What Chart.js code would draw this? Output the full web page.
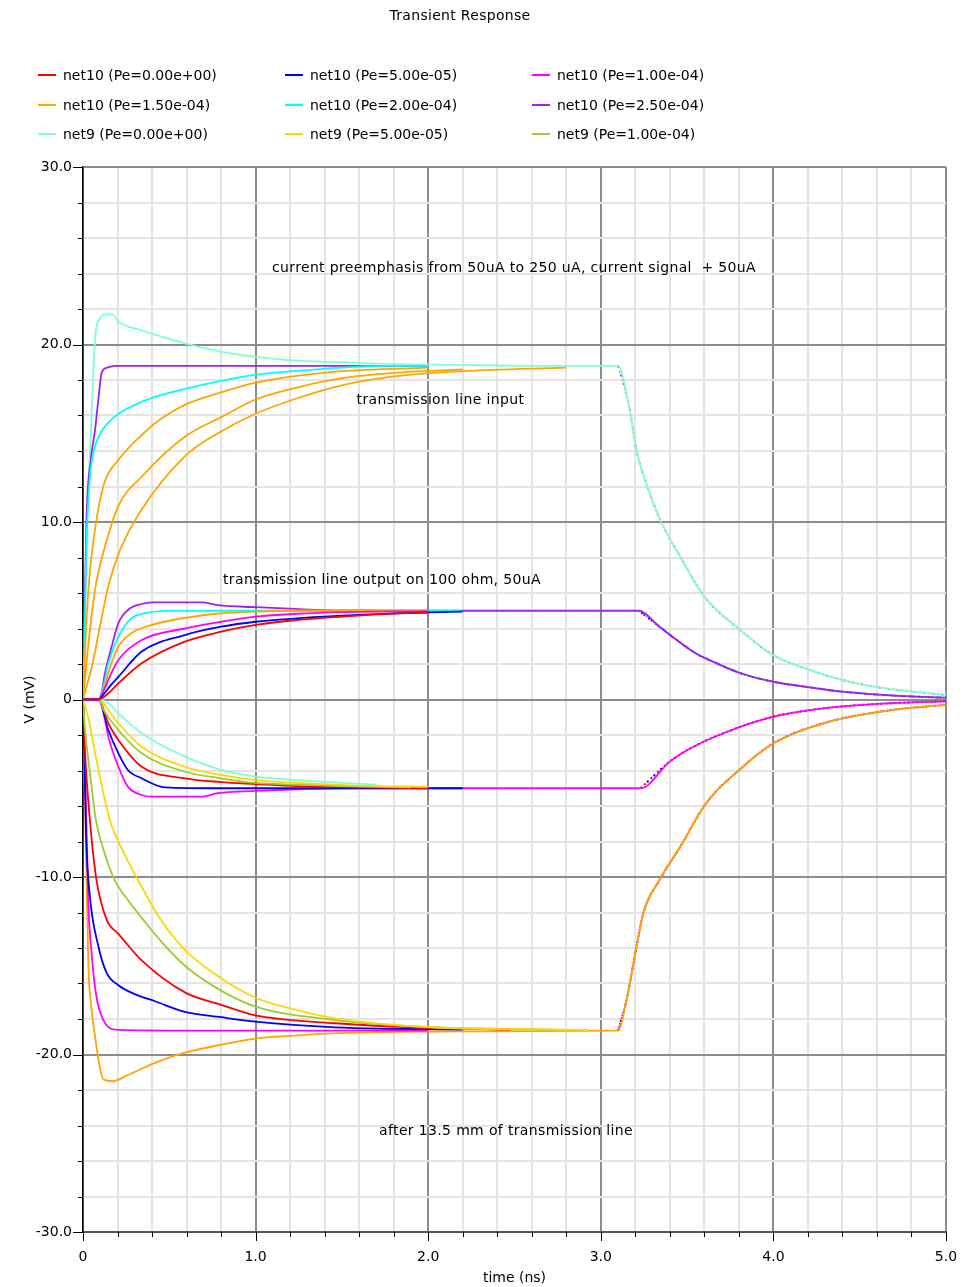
<!DOCTYPE html>
<html><head><meta charset="utf-8">
<script src="https://cdn.jsdelivr.net/npm/chart.js@4.4.1/dist/chart.umd.min.js"></script>
<style>
html,body{margin:0;padding:0;background:#fff;}
#wrap{position:relative;width:963px;height:1287px;font-family:"DejaVu Sans",sans-serif;color:#000;overflow:hidden;}
#c{position:absolute;left:0;top:0;}
#title{position:absolute;top:6px;left:0;width:920px;text-align:center;font-size:14px;line-height:18px;letter-spacing:0.3px;}
.lg{position:absolute;font-size:14px;line-height:18px;white-space:nowrap;}
.lg i{position:absolute;left:-25px;top:8px;width:18px;height:2px;}
</style></head>
<body><div id="wrap"><canvas id="c" width="963" height="1287"></canvas><div id="title">Transient Response</div><div id="legend"></div></div>
<script>
// ---- series data: time (ns) / voltage (mV) ----
// net10 group (transmission line output, positive)
const n10RedT = [0, 0.09, 0.147, 0.205, 0.34, 0.59, 0.8, 1.0, 1.24, 1.5, 1.7, 2.0];
const n10RedV = [0, 0, 0.35, 0.91, 2.04, 3.26, 3.82, 4.2, 4.48, 4.67, 4.8, 4.9];
const n10BlueT = [0, 0.09, 0.12, 0.16, 0.205, 0.34, 0.59, 0.8, 1.0, 1.24, 1.5, 1.8, 2.2];
const n10BlueV = [0, 0, 0.3, 0.8, 1.28, 2.7, 3.63, 4.1, 4.38, 4.57, 4.72, 4.85, 4.95];
const n10MagT = [0, 0.09, 0.12, 0.16, 0.205, 0.34, 0.59, 0.8, 1.0, 1.24, 1.5, 2.0];
const n10MagV = [0, 0, 0.5, 1.4, 2.23, 3.35, 4.0, 4.38, 4.67, 4.83, 4.92, 4.98];
const n10OrT = [0, 0.09, 0.12, 0.16, 0.205, 0.28, 0.4, 0.59, 0.8, 1.0, 1.3, 2.0];
const n10OrV = [0, 0, 0.6, 1.9, 2.97, 3.73, 4.2, 4.6, 4.86, 4.95, 5.0, 5.0];
const n10CyT = [0, 0.09, 0.12, 0.147, 0.205, 0.28, 0.36, 0.475, 0.8, 2.2];
const n10CyV = [0, 0, 0.8, 2.04, 3.54, 4.57, 4.86, 4.99, 5.0, 5.0];
const n10PuT = [0, 0.09, 0.11, 0.127, 0.166, 0.205, 0.26, 0.34, 0.4, 0.69, 0.78, 1.0, 1.23, 1.5, 2.2, 3.22];
const n10PuV = [0, 0, 0.5, 1.47, 2.97, 4.3, 5.04, 5.38, 5.47, 5.47, 5.32, 5.2, 5.1, 5.02, 5.0, 5.0];
const fallOutT = [3.22, 3.34, 3.44, 3.55, 3.65, 3.81, 4.0, 4.2, 4.4, 4.73, 5.0];
const fallOutV = [5.0, 4.1, 3.35, 2.6, 2.13, 1.48, 1.0, 0.7, 0.44, 0.2, 0.1];
// net9 group (transmission line output, negative)
const n9AqT = [0, 0.09, 0.147, 0.205, 0.34, 0.59, 0.8, 1.0, 1.24, 1.5, 1.7];
const n9AqV = [0, 0, -0.21, -0.78, -1.9, -3.22, -3.97, -4.35, -4.54, -4.7, -4.8];
const n9GoT = [0, 0.09, 0.147, 0.205, 0.34, 0.59, 0.8, 1.0, 1.24, 1.6, 2.0];
const n9GoV = [0, 0, -0.59, -1.34, -2.66, -3.79, -4.25, -4.54, -4.7, -4.85, -4.92];
const n9GrT = [0, 0.09, 0.12, 0.205, 0.34, 0.59, 0.8, 1.0, 1.24, 1.5, 1.9];
const n9GrV = [0, 0, -0.6, -1.72, -3.03, -4.07, -4.44, -4.7, -4.8, -4.88, -4.95];
const n9RedT = [0, 0.09, 0.147, 0.205, 0.34, 0.59, 0.8, 1.0, 1.24, 1.6, 2.0];
const n9RedV = [0, 0, -1.34, -2.28, -3.79, -4.44, -4.65, -4.76, -4.88, -4.95, -5.0];
const n9BlueT = [0, 0.09, 0.147, 0.205, 0.26, 0.34, 0.475, 0.8, 2.2];
const n9BlueV = [0, 0, -1.72, -3.03, -3.97, -4.44, -4.95, -5.0, -5.0];
const n9MagT = [0, 0.09, 0.12, 0.147, 0.205, 0.26, 0.34, 0.4, 0.69, 0.78, 1.0, 1.24, 1.5, 3.23];
const n9MagV = [0, 0, -0.8, -2.1, -3.79, -4.91, -5.38, -5.47, -5.47, -5.28, -5.15, -5.06, -5.0, -5.0];
const riseOutT = [3.23, 3.4, 3.52, 3.71, 4.0, 4.29, 4.68, 5.0];
const riseOutV = [-5.0, -3.5, -2.75, -1.9, -0.97, -0.5, -0.21, -0.1];
// transmission line input (top)
const inOr3T = [0, 0.05, 0.1, 0.147, 0.214, 0.34, 0.59, 0.8, 1.0, 1.25, 1.5, 1.8, 2.2, 2.8];
const inOr3V = [0, 1.8, 4.2, 6.4, 8.4, 10.7, 13.7, 15.1, 16.1, 17.0, 17.7, 18.2, 18.5, 18.7];
const inOr2T = [0, 0.03, 0.07, 0.127, 0.205, 0.34, 0.59, 0.8, 1.0, 1.25, 1.5, 1.8, 2.2];
const inOr2V = [0, 3.0, 6.2, 8.6, 10.9, 12.55, 14.8, 15.9, 16.9, 17.6, 18.1, 18.4, 18.6];
const inOr1T = [0, 0.02, 0.04, 0.06, 0.09, 0.127, 0.205, 0.34, 0.45, 0.59, 0.8, 1.0, 1.25, 1.5, 2.0];
const inOr1V = [0, 4.5, 7.2, 8.9, 10.8, 12.3, 13.5, 14.9, 15.8, 16.6, 17.3, 17.85, 18.25, 18.5, 18.7];
const inCyT = [0, 0.01, 0.02, 0.04, 0.06, 0.09, 0.137, 0.205, 0.3, 0.417, 0.59, 0.8, 1.0, 1.22, 1.5, 1.75, 2.0];
const inCyV = [0, 4.0, 8.8, 12.5, 13.9, 14.8, 15.5, 16.1, 16.6, 17.05, 17.5, 17.95, 18.3, 18.5, 18.7, 18.8, 18.8];
const inPuT = [0, 0.01, 0.02, 0.045, 0.07, 0.09, 0.108, 0.14, 0.186, 2.0];
const inPuV = [0, 5.0, 10.1, 13.5, 15.2, 17.0, 18.4, 18.7, 18.8, 18.8];
const inAqT = [0, 0.021, 0.045, 0.07, 0.1, 0.13, 0.17, 0.205, 0.34, 0.59, 0.8, 1.0, 1.22, 1.5, 1.8, 2.2, 2.6, 3.1];
const inAqV = [0, 8.8, 15.0, 20.3, 21.5, 21.7, 21.7, 21.3, 20.8, 20.07, 19.6, 19.3, 19.1, 19.0, 18.9, 18.85, 18.8, 18.8];
const fallInT = [3.1, 3.16, 3.21, 3.27, 3.35, 3.46, 3.6, 3.81, 4.0, 4.2, 4.4, 4.6, 4.81, 5.0];
const fallInV = [18.8, 16.7, 13.9, 12.0, 10.0, 8.05, 5.8, 3.9, 2.5, 1.7, 1.1, 0.7, 0.44, 0.25];
// after 13.5 mm of transmission line (bottom)
const bGoT = [0, 0.03, 0.09, 0.156, 0.24, 0.32, 0.45, 0.59, 0.8, 1.0, 1.2, 1.46, 2.0, 2.93];
const bGoV = [0, -1.0, -4.0, -6.8, -8.7, -10.2, -12.4, -14.1, -15.7, -16.8, -17.4, -17.96, -18.45, -18.62];
const bGrT = [0, 0.012, 0.045, 0.075, 0.13, 0.185, 0.26, 0.34, 0.45, 0.59, 0.8, 1.0, 1.46, 2.0, 2.73];
const bGrV = [0, -1.7, -4.5, -6.8, -8.8, -10.2, -11.3, -12.3, -13.6, -15.0, -16.4, -17.3, -18.06, -18.45, -18.6];
const bRedT = [0, 0.012, 0.04, 0.077, 0.137, 0.205, 0.34, 0.59, 0.8, 1.0, 1.46, 2.0, 2.48];
const bRedV = [0, -3.0, -6.8, -10.1, -12.4, -13.2, -14.7, -16.5, -17.2, -17.8, -18.24, -18.5, -18.6];
const bBlueT = [0, 0.01, 0.018, 0.04, 0.089, 0.137, 0.205, 0.3, 0.417, 0.59, 0.8, 1.0, 1.46, 1.8, 2.2];
const bBlueV = [0, -4.0, -7.7, -11.1, -13.9, -15.4, -16.1, -16.6, -17.0, -17.6, -17.9, -18.15, -18.47, -18.55, -18.6];
const bMagT = [0, 0.015, 0.031, 0.05, 0.077, 0.118, 0.185, 0.5, 1.0, 2.0];
const bMagV = [0, -5.0, -11.5, -14.3, -16.7, -18.06, -18.6, -18.65, -18.65, -18.65];
const bOrT = [0, 0.01, 0.031, 0.05, 0.07, 0.095, 0.118, 0.176, 0.25, 0.34, 0.45, 0.59, 0.8, 1.0, 1.2, 1.46, 1.8, 2.2, 2.6, 3.1];
const bOrV = [0, -5.0, -14.9, -17.5, -19.0, -20.6, -21.4, -21.5, -21.2, -20.8, -20.35, -19.9, -19.45, -19.1, -18.95, -18.8, -18.72, -18.7, -18.68, -18.66];
const riseBotT = [3.1, 3.15, 3.2, 3.246, 3.34, 3.46, 3.61, 3.81, 4.0, 4.29, 4.68, 5.0];
const riseBotV = [-18.66, -16.9, -14.3, -12.05, -10.17, -8.3, -5.85, -3.9, -2.47, -1.34, -0.6, -0.3];

const peLabels = ['0.00e+00', '5.00e-05', '1.00e-04', '1.50e-04', '2.00e-04', '2.50e-04'];
const xTickLabels = ['0', '1.0', '2.0', '3.0', '4.0', '5.0'];
const yTickLabels = ['-30.0', '-20.0', '-10.0', '0', '10.0', '20.0', '30.0'];

// ---- styles ----
const COL = {red:'#ff0000', blue:'#0000ff', magenta:'#ff00ff', orange:'#ffa500', cyan:'#00ffff',
  purple:'#a020f0', aqua:'#7fffd4', gold:'#ffd700', green:'#9acd32'};

function pts(t, v) { return t.map((x, i) => ({x: x, y: v[i]})); }
function join(t1, v1, t2, v2) { return pts(t1, v1).concat(pts(t2, v2).slice(1)); }
function ds(label, data, color, extra) {
  return Object.assign({label, data, borderColor: color, backgroundColor: color, borderWidth: 1.8,
    pointRadius: 0, fill: false, cubicInterpolationMode: 'monotone'}, extra || {});
}
const dash = (off) => ({borderDash: [2, 7], borderDashOffset: off, borderWidth: 2, cubicInterpolationMode: 'monotone'});

const datasets = [
  ds('net10 (Pe=' + peLabels[0] + ')', pts(n10RedT, n10RedV), COL.red),
  ds('net10 (Pe=' + peLabels[1] + ')', pts(n10BlueT, n10BlueV), COL.blue),
  ds('net10 (Pe=' + peLabels[2] + ')', pts(n10MagT, n10MagV), COL.magenta),
  ds('net10 (Pe=' + peLabels[3] + ')', pts(n10OrT, n10OrV), COL.orange),
  ds('net10 (Pe=' + peLabels[4] + ')', pts(n10CyT, n10CyV), COL.cyan),
  ds('net10 (Pe=' + peLabels[5] + ')', join(n10PuT, n10PuV, fallOutT, fallOutV), COL.purple),
  ds('net9 (Pe=' + peLabels[0] + ')', pts(n9AqT, n9AqV), COL.aqua),
  ds('net9 (Pe=' + peLabels[1] + ')', pts(n9GoT, n9GoV), COL.gold),
  ds('net9 (Pe=' + peLabels[2] + ')', pts(n9GrT, n9GrV), COL.green),
  ds('net9 (Pe=' + peLabels[3] + ')', pts(n9RedT, n9RedV), COL.red),
  ds('net9 (Pe=' + peLabels[4] + ')', pts(n9BlueT, n9BlueV), COL.blue),
  ds('net9 (Pe=' + peLabels[5] + ')', join(n9MagT, n9MagV, riseOutT, riseOutV), COL.magenta),
  ds('in (Pe=' + peLabels[0] + ')', pts(inOr3T, inOr3V), COL.orange),
  ds('in (Pe=' + peLabels[1] + ')', pts(inOr2T, inOr2V), COL.orange),
  ds('in (Pe=' + peLabels[2] + ')', pts(inOr1T, inOr1V), COL.orange),
  ds('in (Pe=' + peLabels[3] + ')', pts(inCyT, inCyV), COL.cyan),
  ds('in (Pe=' + peLabels[4] + ')', pts(inPuT, inPuV), COL.purple),
  ds('in (Pe=' + peLabels[5] + ')', join(inAqT, inAqV, fallInT, fallInV), COL.aqua),
  ds('out (Pe=' + peLabels[0] + ')', pts(bGoT, bGoV), COL.gold),
  ds('out (Pe=' + peLabels[1] + ')', pts(bGrT, bGrV), COL.green),
  ds('out (Pe=' + peLabels[2] + ')', pts(bRedT, bRedV), COL.red),
  ds('out (Pe=' + peLabels[3] + ')', pts(bBlueT, bBlueV), COL.blue),
  ds('out (Pe=' + peLabels[4] + ')', pts(bMagT, bMagV), COL.magenta),
  ds('out (Pe=' + peLabels[5] + ')', join(bOrT, bOrV, riseBotT, riseBotV), COL.orange),
  // overlapping traces on the common edges
  ds('', pts(fallInT, fallInV), COL.purple, dash(0)),
  ds('', pts(fallInT, fallInV), COL.orange, dash(4)),
  ds('', pts(fallOutT, fallOutV), COL.cyan, dash(0)),
  ds('', pts(fallOutT, fallOutV), COL.red, dash(3)),
  ds('', pts(fallOutT, fallOutV), COL.blue, dash(6)),
  ds('', pts(riseOutT, riseOutV), COL.blue, dash(0)),
  ds('', pts(riseOutT, riseOutV), COL.red, dash(4)),
  ds('', pts(riseBotT, riseBotV), COL.blue, dash(0)),
  ds('', pts(riseBotT, riseBotV), COL.red, dash(3)),
  ds('', pts(riseBotT, riseBotV), COL.magenta, dash(6))
];

// ---- legend (HTML, 3 columns) ----
const legendEl = document.getElementById('legend');
datasets.slice(0, 9).forEach((d, i) => {
  const el = document.createElement('div');
  el.className = 'lg';
  el.style.left = (63 + (i % 3) * 247) + 'px';
  el.style.top = (66 + Math.floor(i / 3) * 29.5) + 'px';
  el.innerHTML = '<i style="background:' + d.borderColor + '"></i>';
  el.appendChild(document.createTextNode(d.label));
  legendEl.appendChild(el);
});

const isMajorX = v => Math.abs(v - Math.round(v)) < 1e-6;
const isMajorY = v => Math.abs(v / 10 - Math.round(v / 10)) < 1e-6;

const notes = {
  id: 'notes',
  afterDatasetsDraw(chart) {
    const {ctx, scales: {x, y}} = chart;
    const items = [
      ['current preemphasis from 50uA to 250 uA, current signal  + 50uA', 2.497, 24.3],
      ['transmission line input', 2.071, 16.87],
      ['transmission line output on 100 ohm, 50uA', 1.732, 6.73],
      ['after 13.5 mm of transmission line', 2.451, -24.31]
    ];
    ctx.save();
    ctx.font = '14px "DejaVu Sans"';
    ctx.letterSpacing = '0.35px';
    ctx.fillStyle = '#000';
    ctx.textAlign = 'center';
    ctx.textBaseline = 'middle';
    items.forEach(([s, tx, ty]) => ctx.fillText(s, x.getPixelForValue(tx), y.getPixelForValue(ty)));
    ctx.restore();
  }
};

const tickMarks = {
  id: 'tickMarks',
  afterDraw(chart) {
    const {ctx, chartArea: a, scales: {x, y}} = chart;
    ctx.save();
    ctx.strokeStyle = '#000';
    ctx.lineWidth = 1;
    ctx.beginPath();
    y.ticks.forEach(tk => {
      const p = Math.round(y.getPixelForValue(tk.value)) + 0.5;
      const L = isMajorY(tk.value) ? 10 : 5;
      ctx.moveTo(a.left - L, p); ctx.lineTo(a.left, p);
    });
    x.ticks.forEach(tk => {
      const p = Math.round(x.getPixelForValue(tk.value)) + 0.5;
      const L = isMajorX(tk.value) ? 9 : 5;
      ctx.moveTo(p, a.bottom); ctx.lineTo(p, a.bottom + L);
    });
    ctx.stroke();
    ctx.restore();
  }
};

const font = {family: 'DejaVu Sans', size: 14};
new Chart(document.getElementById('c'), {
  type: 'line',
  data: {datasets},
  plugins: [notes, tickMarks],
  options: {
    responsive: false,
    animation: false,
    devicePixelRatio: 1,
    layout: {padding: {top: 167, right: 17, bottom: 0, left: 0}},
    plugins: {legend: {display: false}, title: {display: false}, tooltip: {enabled: false}},
    elements: {line: {tension: 0}},
    scales: {
      x: {
        type: 'linear', min: 0, max: 5,
        afterFit: s => { s.height = 55; s.paddingRight = 0; s.paddingLeft = 0; },
        ticks: {stepSize: 0.2, maxTicksLimit: 100, autoSkip: false, maxRotation: 0, padding: 17, color: '#000', font,
          callback: v => isMajorX(v) ? xTickLabels[Math.round(v)] : ''},
        grid: {drawTicks: false,
          color: c => isMajorX(c.tick.value) ? '#8c8c8c' : '#e4e4e4',
          lineWidth: 2},
        border: {color: '#555', width: 2},
        title: {display: true, text: 'time (ns)', color: '#000', font, padding: {top: 0, bottom: 0.6}}
      },
      y: {
        type: 'linear', min: -30, max: 30,
        afterFit: s => { s.width = 83; s.paddingTop = 0; s.paddingBottom = 0; },
        ticks: {stepSize: 2, maxTicksLimit: 100, autoSkip: false, padding: 11, color: '#000', font,
          callback: v => isMajorY(v) ? yTickLabels[Math.round(v / 10) + 3] : ''},
        grid: {drawTicks: false,
          color: c => isMajorY(c.tick.value) ? '#8c8c8c' : '#e4e4e4',
          lineWidth: 2},
        border: {color: '#000', width: 1.5},
        title: {display: true, text: 'V (mV)', color: '#000', font, padding: {top: 22, bottom: 0}}
      }
    }
  }
});
</script>
</body></html>
